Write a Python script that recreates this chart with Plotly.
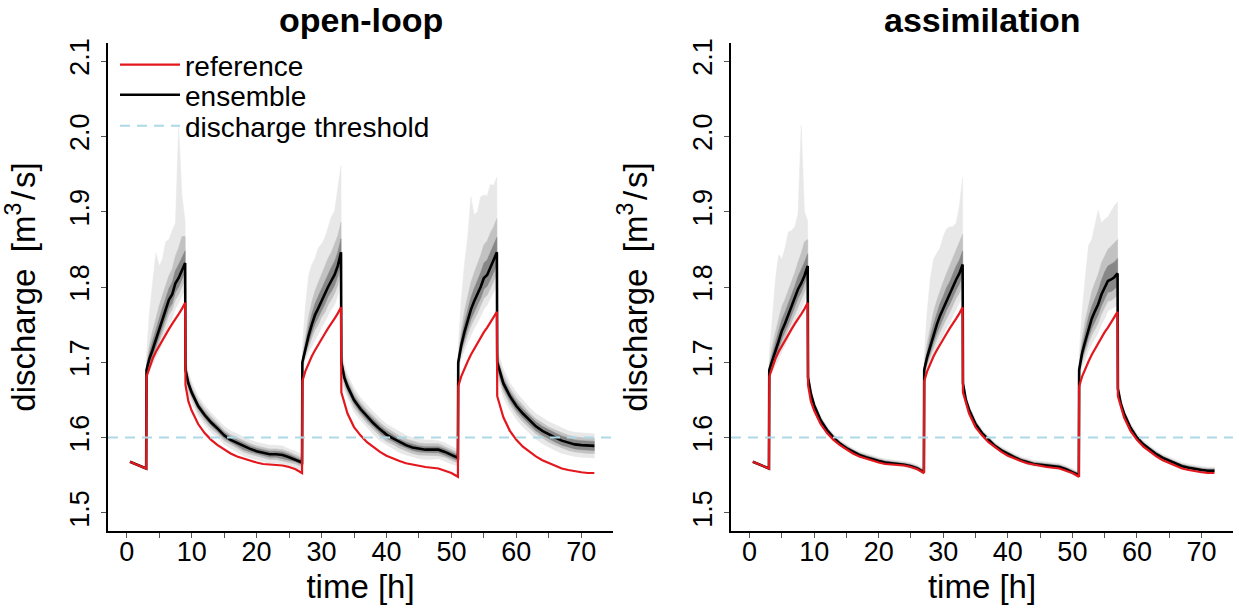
import plotly.graph_objects as go

# ---------------- data ----------------
T = [0.5, 1, 2, 3,
     3.05, 3.5, 4, 4.5, 5, 5.5, 6, 6.5, 7, 7.5, 8, 8.5, 9,
     9.05, 9.5,
     10, 11, 12, 13, 14, 15, 16, 17, 18, 19, 20, 21, 22, 23, 24, 25, 26, 27,
     27.05, 27.5, 28, 28.5, 29, 29.5, 30, 30.5, 31, 31.5, 32, 32.5, 33,
     33.05, 33.5,
     34, 35, 36, 37, 38, 39, 40, 41, 42, 43, 44, 45, 46, 47, 48, 49, 50, 51,
     51.05, 51.5, 52, 52.5, 53, 53.5, 54, 54.5, 55, 55.5, 56, 56.5, 57,
     57.05, 57.5,
     58, 59, 60, 61, 62, 63, 64, 65, 66, 67, 68, 69, 70, 71, 72]

REFERENCE = [1.568, 1.566, 1.563, 1.559,
             1.681, 1.694, 1.705, 1.714, 1.722, 1.730, 1.737, 1.744, 1.751, 1.757, 1.764, 1.771, 1.779,
             1.670, 1.648,
             1.636, 1.618, 1.606, 1.597, 1.590, 1.584, 1.579, 1.575, 1.572, 1.569, 1.567, 1.565, 1.564, 1.564, 1.563, 1.561, 1.558, 1.553,
             1.675, 1.688, 1.699, 1.708, 1.716, 1.724, 1.731, 1.738, 1.745, 1.751, 1.758, 1.765, 1.773,
             1.660, 1.645,
             1.632, 1.614, 1.603, 1.594, 1.587, 1.581, 1.576, 1.572, 1.569, 1.566, 1.564, 1.562, 1.561, 1.560, 1.559, 1.556, 1.553, 1.548,
             1.668, 1.681, 1.692, 1.701, 1.710, 1.718, 1.726, 1.733, 1.740, 1.746, 1.753, 1.760, 1.767,
             1.655, 1.640,
             1.627, 1.609, 1.597, 1.588, 1.581, 1.575, 1.570, 1.566, 1.562, 1.559, 1.557, 1.555, 1.554, 1.553, 1.553]

ENS_OPENLOOP = [1.568, 1.566, 1.563, 1.559,
                1.690, 1.705, 1.717, 1.730, 1.743, 1.757, 1.770, 1.783, 1.790, 1.805, 1.812, 1.822, 1.832,
                1.690, 1.672,
                1.660, 1.642, 1.630, 1.620, 1.612, 1.603, 1.597, 1.593, 1.588, 1.585, 1.582, 1.580, 1.578, 1.578, 1.577, 1.574, 1.571, 1.567,
                1.700, 1.718, 1.735, 1.750, 1.763, 1.772, 1.782, 1.790, 1.800, 1.808, 1.816, 1.828, 1.846,
                1.700, 1.680,
                1.668, 1.650, 1.638, 1.628, 1.619, 1.611, 1.604, 1.599, 1.594, 1.590, 1.587, 1.585, 1.584, 1.584, 1.584, 1.581, 1.577, 1.573,
                1.700, 1.722, 1.740, 1.756, 1.770, 1.781, 1.790, 1.800, 1.812, 1.816, 1.826, 1.835, 1.846,
                1.700, 1.685,
                1.672, 1.655, 1.642, 1.632, 1.623, 1.615, 1.609, 1.604, 1.600, 1.596, 1.593, 1.591, 1.590, 1.589, 1.589]

ENS_ASSIM = [1.568, 1.566, 1.563, 1.559,
             1.690, 1.703, 1.715, 1.728, 1.742, 1.752, 1.763, 1.775, 1.785, 1.797, 1.805, 1.815, 1.828,
             1.680, 1.658,
             1.643, 1.623, 1.610, 1.600, 1.592, 1.586, 1.581, 1.577, 1.574, 1.571, 1.569, 1.567, 1.566, 1.565, 1.564, 1.562, 1.559, 1.554,
             1.690, 1.707, 1.722, 1.737, 1.750, 1.762, 1.772, 1.782, 1.790, 1.800, 1.810, 1.818, 1.830,
             1.672, 1.650,
             1.637, 1.618, 1.606, 1.597, 1.589, 1.583, 1.578, 1.574, 1.570, 1.567, 1.565, 1.564, 1.563, 1.562, 1.561, 1.558, 1.554, 1.550,
             1.690, 1.712, 1.728, 1.745, 1.758, 1.768, 1.777, 1.790, 1.800, 1.808, 1.810, 1.813, 1.818,
             1.665, 1.645,
             1.632, 1.613, 1.600, 1.591, 1.584, 1.578, 1.573, 1.569, 1.565, 1.562, 1.560, 1.558, 1.557, 1.556, 1.556]

# ensemble spread around the central line, in 0.001 m3/s (upper / lower)
OL_OUT_UP = [0, 0, 0, 0,
             20, 60, 90, 115, 85, 80, 90, 80, 85, 80, 200, 100, 55,
             16, 15,
             14, 13, 13, 13, 12, 12, 12, 12, 12, 12, 12, 12, 12, 12, 12, 11, 11, 10,
             20, 55, 80, 80, 75, 80, 75, 75, 80, 85, 85, 100, 115,
             18, 17,
             16, 16, 15, 15, 15, 15, 14, 14, 14, 13, 13, 13, 13, 13, 12, 12, 12, 11,
             20, 60, 90, 110, 150, 115, 110, 120, 110, 105, 110, 100, 100,
             20, 19,
             19, 18, 18, 18, 17, 17, 17, 17, 17, 17, 16, 16, 16, 16, 16]
OL_OUT_DN = [0, 0, 0, 0,
             10, 15, 20, 25, 28, 30, 30, 32, 32, 34, 34, 34, 35,
             16, 15,
             14, 13, 13, 13, 12, 12, 12, 12, 12, 12, 12, 12, 12, 12, 12, 11, 11, 10,
             10, 15, 22, 28, 32, 34, 36, 36, 38, 38, 40, 40, 42,
             18, 17,
             16, 16, 15, 15, 15, 15, 14, 14, 14, 13, 13, 13, 13, 13, 12, 12, 12, 11,
             10, 18, 25, 30, 34, 36, 38, 40, 42, 40, 42, 42, 44,
             20, 19,
             19, 18, 18, 18, 17, 17, 17, 17, 17, 17, 16, 16, 16, 16, 16]
OL_MID_UP = [0, 0, 0, 0,
             8, 18, 25, 30, 32, 32, 32, 32, 34, 36, 40, 45, 35,
             9, 9,
             8, 8, 8, 8, 7, 7, 7, 7, 7, 7, 7, 7, 7, 7, 7, 7, 6, 6,
             8, 18, 25, 30, 32, 34, 35, 36, 38, 38, 40, 40, 40,
             10, 10,
             10, 10, 9, 9, 9, 9, 9, 8, 8, 8, 8, 8, 8, 8, 8, 7, 7, 7,
             8, 20, 28, 32, 36, 38, 40, 42, 44, 45, 46, 45, 45,
             11, 11,
             11, 11, 11, 11, 10, 10, 10, 10, 10, 10, 10, 10, 10, 10, 10]
OL_MID_DN = [0, 0, 0, 0,
             6, 10, 14, 16, 18, 18, 20, 20, 20, 22, 22, 22, 22,
             9, 9,
             8, 8, 8, 8, 7, 7, 7, 7, 7, 7, 7, 7, 7, 7, 7, 7, 6, 6,
             6, 10, 14, 18, 20, 22, 22, 24, 24, 25, 25, 26, 26,
             10, 10,
             10, 10, 9, 9, 9, 9, 9, 8, 8, 8, 8, 8, 8, 8, 8, 7, 7, 7,
             6, 12, 16, 20, 22, 24, 25, 26, 27, 27, 28, 28, 28,
             11, 11,
             11, 11, 11, 11, 10, 10, 10, 10, 10, 10, 10, 10, 10, 10, 10]
OL_IN_UP = [0, 0, 0, 0,
            4, 8, 12, 14, 15, 15, 15, 15, 16, 17, 18, 18, 16,
            5, 5,
            4, 4, 4, 4, 4, 4, 4, 4, 4, 4, 4, 4, 4, 4, 4, 4, 3, 3,
            4, 8, 12, 14, 15, 16, 16, 17, 17, 18, 18, 18, 18,
            5, 5,
            5, 5, 5, 5, 5, 5, 5, 4, 4, 4, 4, 4, 4, 4, 4, 4, 4, 4,
            4, 9, 13, 15, 16, 17, 18, 19, 20, 20, 20, 20, 20,
            6, 6,
            6, 6, 6, 6, 6, 6, 6, 6, 6, 6, 6, 6, 6, 6, 6]
OL_IN_DN = [0, 0, 0, 0,
            3, 6, 9, 10, 11, 11, 12, 12, 12, 12, 12, 12, 12,
            5, 5,
            4, 4, 4, 4, 4, 4, 4, 4, 4, 4, 4, 4, 4, 4, 4, 4, 3, 3,
            3, 6, 9, 11, 12, 12, 13, 13, 13, 14, 14, 14, 14,
            5, 5,
            5, 5, 5, 5, 5, 5, 5, 4, 4, 4, 4, 4, 4, 4, 4, 4, 4, 4,
            3, 7, 10, 12, 13, 14, 14, 15, 15, 15, 16, 16, 16,
            6, 6,
            6, 6, 6, 6, 6, 6, 6, 6, 6, 6, 6, 6, 6, 6, 6]

AS_OUT_UP = [0, 0, 0, 0,
             20, 60, 95, 115, 95, 100, 110, 100, 95, 100, 210, 85, 60,
             8, 7,
             6, 6, 5, 5, 5, 5, 5, 5, 5, 5, 5, 5, 5, 5, 5, 5, 5, 5,
             20, 60, 90, 100, 95, 90, 95, 95, 90, 80, 75, 90, 115,
             8, 7,
             6, 6, 5, 5, 5, 5, 5, 5, 5, 5, 5, 5, 5, 5, 5, 5, 5, 5,
             20, 55, 85, 110, 105, 115, 125, 95, 90, 85, 90, 95, 95,
             8, 7,
             6, 6, 6, 5, 5, 5, 5, 5, 5, 5, 5, 5, 5, 5, 5]
AS_OUT_DN = [0, 0, 0, 0,
             10, 15, 20, 25, 28, 30, 30, 32, 32, 34, 34, 34, 35,
             8, 7,
             6, 5, 4, 4, 3, 3, 3, 3, 3, 3, 3, 3, 3, 3, 3, 3, 3, 3,
             10, 15, 22, 28, 32, 34, 36, 36, 38, 38, 40, 40, 42,
             8, 7,
             6, 5, 4, 4, 3, 3, 3, 3, 3, 3, 3, 3, 3, 3, 3, 3, 3, 3,
             10, 18, 25, 30, 34, 36, 38, 40, 42, 40, 40, 40, 42,
             8, 7,
             6, 5, 4, 4, 3, 3, 3, 3, 3, 3, 3, 3, 3, 3, 3]
AS_MID_UP = [0, 0, 0, 0,
             8, 18, 25, 30, 32, 32, 32, 32, 34, 36, 40, 45, 35,
             5, 5,
             4, 4, 3, 3, 3, 3, 3, 3, 3, 3, 3, 3, 3, 3, 3, 3, 3, 3,
             8, 18, 25, 30, 32, 34, 35, 36, 38, 38, 40, 40, 40,
             5, 5,
             4, 4, 3, 3, 3, 3, 3, 3, 3, 3, 3, 3, 3, 3, 3, 3, 3, 3,
             8, 20, 28, 32, 36, 38, 40, 42, 40, 42, 44, 45, 45,
             5, 5,
             4, 4, 3, 3, 3, 3, 3, 3, 3, 3, 3, 3, 3, 3, 3]
AS_MID_DN = [0, 0, 0, 0,
             6, 10, 14, 16, 18, 18, 20, 20, 20, 22, 22, 22, 22,
             4, 4,
             3, 3, 2, 2, 2, 2, 2, 2, 2, 2, 2, 2, 2, 2, 2, 2, 2, 2,
             6, 10, 14, 18, 20, 22, 22, 24, 24, 25, 25, 26, 26,
             4, 4,
             3, 3, 2, 2, 2, 2, 2, 2, 2, 2, 2, 2, 2, 2, 2, 2, 2, 2,
             6, 12, 16, 20, 22, 24, 25, 26, 27, 27, 28, 28, 28,
             4, 4,
             3, 3, 2, 2, 2, 2, 2, 2, 2, 2, 2, 2, 2, 2, 2]
AS_IN_UP = [0, 0, 0, 0,
            4, 8, 12, 14, 15, 15, 15, 15, 16, 17, 18, 18, 16,
            2, 2,
            2, 2, 2, 2, 2, 2, 2, 2, 2, 2, 2, 2, 2, 2, 2, 2, 2, 2,
            4, 8, 12, 14, 15, 16, 16, 17, 17, 18, 18, 18, 18,
            2, 2,
            2, 2, 2, 2, 2, 2, 2, 2, 2, 2, 2, 2, 2, 2, 2, 2, 2, 2,
            4, 9, 13, 15, 16, 17, 18, 19, 20, 20, 20, 20, 20,
            2, 2,
            2, 2, 2, 2, 2, 2, 2, 2, 2, 2, 2, 2, 2, 2, 2]
AS_IN_DN = [0, 0, 0, 0,
            3, 6, 9, 10, 11, 11, 12, 12, 12, 12, 12, 12, 12,
            2, 2,
            1, 1, 1, 1, 1, 1, 1, 1, 1, 1, 1, 1, 1, 1, 1, 1, 1, 1,
            3, 6, 9, 11, 12, 12, 13, 13, 13, 14, 14, 14, 14,
            2, 2,
            1, 1, 1, 1, 1, 1, 1, 1, 1, 1, 1, 1, 1, 1, 1, 1, 1, 1,
            3, 7, 10, 12, 13, 14, 14, 15, 15, 15, 16, 16, 16,
            2, 2,
            1, 1, 1, 1, 1, 1, 1, 1, 1, 1, 1, 1, 1, 1, 1]

THRESHOLD = 1.6
X_LIM = [0, 72]
Y_LIM = [1.5, 2.1]
X_TICKS = [0, 10, 20, 30, 40, 50, 60, 70]
X_MINOR_TICKS = [5, 15, 25, 35, 45, 55, 65]
Y_TICKS = [1.5, 1.6, 1.7, 1.8, 1.9, 2.0, 2.1]
Y_TICK_TEXT = ["1.5", "1.6", "1.7", "1.8", "1.9", "2.0", "2.1"]
PANEL_TITLES = ["open-loop", "assimilation"]
X_TITLE = "time [h]"
Y_TITLE = "discharge\u2002[m<sup>3</sup>\u200a/\u200as]"

for arr in [REFERENCE, ENS_OPENLOOP, ENS_ASSIM, OL_OUT_UP, OL_OUT_DN, OL_MID_UP, OL_MID_DN,
            OL_IN_UP, OL_IN_DN, AS_OUT_UP, AS_OUT_DN, AS_MID_UP, AS_MID_DN, AS_IN_UP, AS_IN_DN]:
    assert len(arr) == len(T), len(arr)

# ---------------- style ----------------
FONT = "Liberation Sans, Arial, Helvetica, sans-serif"
BAND_COLORS = ["#E8E8E8", "#C2C2C2", "#878787"]
RED = "#E3171D"
THR_COLOR = "#ADD8E6"
THR_DASH = "10px,7px"
W, H = 1239, 613


def pad(lim):
    d = (lim[1] - lim[0]) * 0.04
    return [lim[0] - d, lim[1] + d]


fig = go.Figure()

panels = [
    ("x", "y", ENS_OPENLOOP, [(OL_OUT_UP, OL_OUT_DN), (OL_MID_UP, OL_MID_DN), (OL_IN_UP, OL_IN_DN)], True),
    ("x2", "y2", ENS_ASSIM, [(AS_OUT_UP, AS_OUT_DN), (AS_MID_UP, AS_MID_DN), (AS_IN_UP, AS_IN_DN)], False),
]

for xa, ya, med, bands, show in panels:
    for (up, dn), col in zip(bands, BAND_COLORS):
        hi = [m + u / 1000 for m, u in zip(med, up)]
        lo = [m - d / 1000 for m, d in zip(med, dn)]
        fig.add_trace(go.Scatter(x=T + T[::-1], y=hi + lo[::-1], fill="toself", fillcolor=col,
                                 mode="lines", line=dict(width=0.5, color=col),
                                 hoverinfo="skip", showlegend=False, xaxis=xa, yaxis=ya))
    fig.add_trace(go.Scatter(x=T, y=med, mode="lines", name="ensemble",
                             line=dict(color="black", width=2.6), legend="legend2",
                             showlegend=show, xaxis=xa, yaxis=ya))
    fig.add_trace(go.Scatter(x=T, y=REFERENCE, mode="lines", name="reference",
                             line=dict(color=RED, width=2.2), legend="legend",
                             showlegend=show, xaxis=xa, yaxis=ya))

fig.add_trace(go.Scatter(x=[None], y=[None], mode="lines", name="discharge threshold",
                         line=dict(color=THR_COLOR, width=2, dash=THR_DASH), legend="legend3",
                         xaxis="x", yaxis="y"))

for xref, yref in [("x domain", "y"), ("x2 domain", "y2")]:
    fig.add_shape(type="line", xref=xref, yref=yref, x0=0, x1=1, y0=THRESHOLD, y1=THRESHOLD,
                  line=dict(color=THR_COLOR, width=2, dash=THR_DASH), layer="above")

xdoms = [[108 / W, 613 / W], [731 / W, 1233 / W]]
ydom = [(H - 531) / H, (H - 43) / H]

axis_common = dict(showgrid=False, zeroline=False, showline=True, linecolor="black", linewidth=2,
                   ticks="outside", ticklen=5, tickwidth=1, tickcolor="#555555",
                   tickfont=dict(family=FONT, size=27, color="black"))


def leg(top_px):
    return dict(x=115 / W, y=(H - top_px) / H, xanchor="left", yanchor="top",
                bgcolor="rgba(0,0,0,0)", font=dict(family=FONT, size=28, color="black"),
                itemwidth=60, tracegroupgap=0)


layout = dict(width=W, height=H, margin=dict(l=0, r=0, t=0, b=0),
              paper_bgcolor="white", plot_bgcolor="white", showlegend=True,
              font=dict(family=FONT, color="black"),
              legend=leg(40), legend2=leg(70), legend3=leg(101))

for xd, key in zip(xdoms, ["", "2"]):
    layout["xaxis" + key] = dict(axis_common, domain=xd, range=pad(X_LIM), anchor="y" + key,
                                 tickmode="array", tickvals=X_TICKS, automargin=False,
                                 minor=dict(tickmode="array", tickvals=X_MINOR_TICKS, ticks="outside",
                                            ticklen=5, tickwidth=1, tickcolor="#555555", showgrid=False),
                                 ticklabelstandoff=-9,
                                 title=dict(text=X_TITLE, font=dict(family=FONT, size=33), standoff=8))
    layout["yaxis" + key] = dict(axis_common, domain=ydom, range=pad(Y_LIM), anchor="x" + key,
                                 tickvals=Y_TICKS, ticktext=Y_TICK_TEXT, tickangle=-90,
                                 automargin=False, ticklabelstandoff=1,
                                 title=dict(text=Y_TITLE, font=dict(family=FONT, size=33), standoff=31))

fig.update_layout(**layout)

for xd, title in zip(xdoms, PANEL_TITLES):
    fig.add_annotation(text="<b>" + title + "</b>", xref="paper", yref="paper",
                       x=(xd[0] + xd[1]) / 2, y=(H - 20) / H, xanchor="center", yanchor="middle",
                       showarrow=False, font=dict(family=FONT, size=34, color="black"))

fig.write_html("out.html", config={"displayModeBar": False},
               post_script="document.body.style.margin='0px';document.body.style.overflow='hidden';")
